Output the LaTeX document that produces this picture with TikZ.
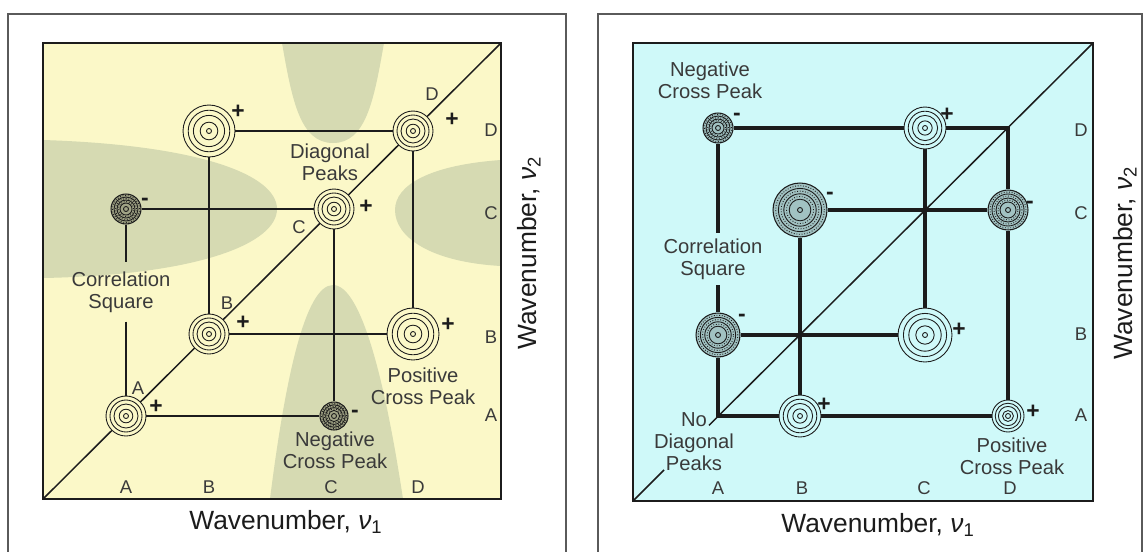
\documentclass[tikz,border=0pt]{standalone}
\usepackage{fontspec}
\setmainfont{Liberation Sans}
\usepackage{tikz}
\usetikzlibrary{positioning, calc}
\usepackage{xcolor}
\definecolor{inkblack}{HTML}{1C1C1C}
\definecolor{textgray}{HTML}{3A3A3A}
\definecolor{framegray}{HTML}{5A5A5A}
\definecolor{paleyellow}{HTML}{FBF8C8}
\definecolor{lobegreen}{HTML}{D6DAB2}
\definecolor{palecyan}{HTML}{CFF9F9}
\tikzstyle{panelbox} = [draw=inkblack, line width=1.4pt]
\tikzstyle{outerframe} = [draw=framegray, line width=0.9pt]

\begin{document}
\begin{tikzpicture}[x=0.02cm, y=-0.02cm,
    lbl/.style={font=\fontsize{11.5}{12.6}\selectfont, text=textgray, align=center, inner sep=1pt},
    axl/.style={font=\fontsize{10.5}{12}\selectfont, text=textgray, inner sep=0pt},
    ttl/.style={font=\fontsize{15}{18}\selectfont, text=inkblack, inner sep=0pt},
    sgn/.style={font=\fontsize{13}{14}\selectfont\bfseries, text=inkblack, inner sep=0pt},
    ppk/.style={circle, draw=inkblack, line width=0.5pt, inner sep=0pt, minimum size=#1*0.04cm,
      path picture={
        \foreach \f in {0.8,0.6,0.34}
          \draw[inkblack, line width=0.5pt] (path picture bounding box.center) circle[radius=\f*#1*0.02cm];
        \draw[inkblack, line width=0.5pt] (path picture bounding box.center) circle[radius=0.05cm];}},
    npk/.style={circle, draw=inkblack, line width=0.6pt, inner sep=0pt, minimum size=#1*0.04cm,
      path picture={
        \foreach \f in {0.8,0.6,0.4}
          \draw[inkblack, line width=0.5pt] (path picture bounding box.center) circle[radius=\f*#1*0.02cm];
        \foreach \f in {0.9,0.7,0.5}
          \draw[inkblack, line width=0.5pt, densely dotted] (path picture bounding box.center) circle[radius=\f*#1*0.02cm];
        \draw[inkblack, line width=0.5pt] (path picture bounding box.center) circle[radius=0.05cm];}},
    connL/.style={inkblack, line width=0.9pt},
    connR/.style={inkblack, line width=2.3pt, line join=miter},
    diagl/.style={inkblack, line width=0.85pt},
    lobe/.style={fill=lobegreen}
  ]
    \useasboundingbox (0,0) rectangle (1148,551);
    \fill[white] (0,0) rectangle (1148,551);

    % ── Outer frames
    \draw[outerframe] (8,560) -- (8,14) -- (566,14) -- (566,560);
    \draw[outerframe] (598,560) -- (598,14) -- (1142,14) -- (1142,560);

    % ── Left panel: background and shaded lobes
    \fill[paleyellow] (43,43) rectangle (501,499);
    \begin{scope}
      \clip (43,43) rectangle (501,499);
      \fill[lobe] (282,43) .. controls (292,100) and (300,143) .. (333,143)
        .. controls (366,143) and (374,100) .. (384,43) -- cycle;
      \fill[lobe] (43,140) .. controls (200,145) and (277,175) .. (277,209)
        .. controls (277,243) and (200,275) .. (43,278) -- cycle;
      \fill[lobe] (501,160) .. controls (430,165) and (395,185) .. (395,210)
        .. controls (395,237) and (430,262) .. (501,266) -- cycle;
      \fill[lobe] (270,499) .. controls (285,380) and (305,285) .. (333,285)
        .. controls (361,285) and (385,380) .. (403,499) -- cycle;
    \end{scope}
    \draw[panelbox] (43,43) rectangle (501,499);
    \coordinate (lBL) at (43,499);
    \coordinate (lTR) at (501,43);
    \draw[diagl] (lBL) -- (lTR);

    % ── Left panel: peaks
    \node[ppk=20, fill=paleyellow] (lAA) at (126,416) {};
    \node[ppk=20, fill=paleyellow] (lBB) at (209,334) {};
    \node[ppk=20, fill=paleyellow] (lCC) at (334,209) {};
    \node[ppk=20, fill=paleyellow] (lDD) at (413,131) {};
    \node[ppk=26, fill=paleyellow] (lBD) at (209,131) {};
    \node[ppk=26, fill=paleyellow] (lDB) at (413,334) {};
    \node[npk=15, fill=lobegreen!75!black] (lAC) at (126,209) {};
    \node[npk=14, fill=lobegreen!75!black] (lCA) at (334,416) {};

    % ── Left panel: texts
    \node[lbl] (lDiag) at (330,162) {Diagonal\\Peaks};
    \node[lbl, inner sep=5pt] (lCorr) at (121,292) {Correlation\\Square};
    \node[lbl] (lPos) at (423,386) {Positive\\Cross Peak};
    \node[lbl] (lNeg) at (335,450) {Negative\\Cross Peak};

    % ── Left panel: connectors
    \draw[connL] (lBD) -- (lDD);
    \draw[connL] (lBD) -- (lBB);
    \draw[connL] (lAC) -- (lCC);
    \draw[connL] (lAC) -- (lAC |- lCorr.north);
    \draw[connL] (lAA |- lCorr.south) -- (lAA);
    \draw[connL] (lBB) -- (lDB);
    \draw[connL] (lDD) -- (lDB);
    \draw[connL] (lAA) -- (lCA);
    \draw[connL] (lCC) -- (lCA);

    % ── Left panel: signs and letters
    \node[sgn] (lAAs) at (156,407) {+};
    \node[sgn] (lBBs) at (243,323) {+};
    \node[sgn] (lCCs) at (366,207) {+};
    \node[sgn] (lDDs) at (452,120) {+};
    \node[sgn] (lBDs) at (238,112) {+};
    \node[sgn] (lDBs) at (448,325) {+};
    \node[sgn] (lACs) at (145,202) {-};
    \node[sgn] (lCAs) at (355,414) {-};
    \node[axl] (ldA) at (138,388) {A};
    \node[axl] (ldB) at (227,303) {B};
    \node[axl] (ldC) at (299,227) {C};
    \node[axl] (ldD) at (432,94) {D};
    \foreach \lt/\xx in {A/126,B/209,C/331,D/418}
      \node[axl] (lx\lt) at (\xx,487) {\lt};
    \foreach \lt/\yy in {A/415,B/337,C/213,D/130}
      \node[axl] (ly\lt) at (491,\yy) {\lt};
    \node[ttl] (lT1) at (286,522) {Wavenumber, {\itshape ν}\textsubscript{1}};
    \node[ttl, rotate=90] (lT2) at (529,253) {Wavenumber, {\itshape ν}\textsubscript{2}};

    % ── Right panel: background and diagonal
    \fill[palecyan] (633,43) rectangle (1093,501);
    \draw[panelbox] (633,43) rectangle (1093,501);
    \coordinate (rBL) at (633,501);
    \coordinate (rTR) at (1093,43);
    \coordinate (rGapLo) at (664,470);
    \coordinate (rGapHi) at (709,425.3);
    \draw[diagl] (rBL) -- (rGapLo);
    \draw[diagl] (rGapHi) -- (rTR);

    % ── Right panel: empty corners of the squares
    \coordinate (rAA) at (718,416);
    \coordinate (rDD) at (1008,128);

    % ── Right panel: peaks
    \node[npk=15, fill=palecyan!78!black] (rAD) at (718,128) {};
    \node[ppk=21, fill=palecyan] (rCD) at (925,128) {};
    \node[npk=27, fill=palecyan!78!black] (rBC) at (800,210) {};
    \node[npk=20, fill=palecyan!78!black] (rDC) at (1008,210) {};
    \node[npk=22, fill=palecyan!78!black] (rAB) at (718,335) {};
    \node[ppk=27, fill=palecyan] (rCB) at (925,335) {};
    \node[ppk=21, fill=palecyan] (rBA) at (800,416) {};
    \node[ppk=16, fill=palecyan] (rDA) at (1008,416) {};

    % ── Right panel: texts
    \node[lbl] (rNeg) at (710,80) {Negative\\Cross Peak};
    \node[lbl, inner sep=3pt] (rCorr) at (713,259) {Correlation\\Square};
    \node[lbl] (rNoDiag) at (694,442) {No\\Diagonal\\Peaks};
    \node[lbl] (rPos) at (1012,456) {Positive\\Cross Peak};

    % ── Right panel: connectors
    \draw[connR] (rAD) -- (rCD);
    \draw[connR] (rCD) -- (rDD) -- (rDC);
    \draw[connR] (rDC) -- (rDA);
    \draw[connR] (rBC) -- (rDC);
    \draw[connR] (rAB) -- (rCB);
    \draw[connR] (rCD) -- (rCB);
    \draw[connR] (rBC) -- (rBA);
    \draw[connR] (rAB) -- (rAA) -- (rBA);
    \draw[connR] (rBA) -- (rDA);
    \draw[connR] (rAD) -- (rAD |- rCorr.north);
    \draw[connR] (rAB |- rCorr.south) -- (rAB);

    % ── Right panel: signs and letters
    \node[sgn] (rADs) at (737,117) {-};
    \node[sgn] (rCDs) at (947,115) {+};
    \node[sgn] (rBCs) at (830,196) {-};
    \node[sgn] (rDCs) at (1030,205) {-};
    \node[sgn] (rABs) at (742,318) {-};
    \node[sgn] (rCBs) at (959,330) {+};
    \node[sgn] (rBAs) at (824,405) {+};
    \node[sgn] (rDAs) at (1033,412) {+};
    \foreach \lt/\xx in {A/718,B/802,C/924,D/1010}
      \node[axl] (rx\lt) at (\xx,488) {\lt};
    \foreach \lt/\yy in {A/415,B/334,C/213,D/130}
      \node[axl] (ry\lt) at (1081,\yy) {\lt};
    \node[ttl] (rT1) at (878,525) {Wavenumber, {\itshape ν}\textsubscript{1}};
    \node[ttl, rotate=90] (rT2) at (1125,263) {Wavenumber, {\itshape ν}\textsubscript{2}};
  \end{tikzpicture}
\end{document}
